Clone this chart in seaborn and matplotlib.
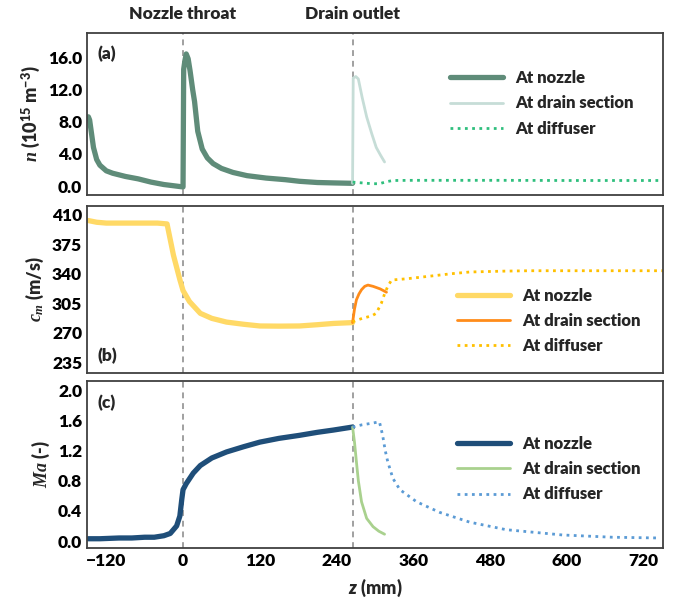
import numpy as np
import pandas as pd
import matplotlib
matplotlib.use('Agg')
import matplotlib.pyplot as plt
import seaborn as sns
from matplotlib.ticker import MultipleLocator, FormatStrFormatter, FixedLocator

# ---------------- data ----------------
# panel (a): droplet number density n (1e15 m^-3)
z_a_nozzle = [-148, -146, -143, -140, -135, -130, -120, -110, -90, -70, -50, -30, -10, 0,
              1, 3, 5, 8, 11, 15, 18, 23, 30, 38, 47, 60, 78, 100, 130, 160, 182, 210, 235, 265]
n_a_nozzle = [8.6, 8.2, 6.5, 4.8, 3.3, 2.6, 1.9, 1.6, 1.2, 0.9, 0.5, 0.2, 0.0, -0.1,
              14.5, 15.6, 16.4, 15.8, 14.3, 12.0, 10.5, 6.8, 4.6, 3.5, 2.8, 2.2, 1.7, 1.3, 1.0, 0.8, 0.6, 0.45, 0.4, 0.35]
z_a_drain = [265, 266, 270, 274, 280, 287, 295, 302, 309, 315]
n_a_drain = [0.35, 13.4, 13.6, 13.3, 11.0, 8.6, 6.5, 4.8, 3.8, 3.0]
z_a_diff = [265, 280, 295, 307, 318, 328, 360, 420, 500, 600, 700, 750]
n_a_diff = [0.5, 0.4, 0.3, 0.3, 0.55, 0.7, 0.72, 0.72, 0.72, 0.7, 0.7, 0.7]

# panel (b): mean velocity c_m (m/s)
z_b_nozzle = [-148, -135, -120, -80, -40, -25, -15, -5, 0, 10, 27, 45, 68, 95, 120, 150, 182, 210, 235, 265]
c_b_nozzle = [403, 401, 400, 400, 400, 399, 362, 333, 320, 307, 293, 287, 282.6, 280, 278, 277.8, 278, 279.5, 281, 282]
z_b_drain = [265, 268, 271, 275, 279, 284, 289, 297, 308, 318]
c_b_drain = [282, 298, 309, 316, 321, 325, 326.5, 325, 322, 318]
z_b_diff = [265, 280, 295, 302, 310, 315, 320, 326, 350, 385, 420, 448, 500, 541, 600, 680, 750]
c_b_diff = [283, 287, 290, 293, 305, 316, 325, 332.5, 334, 337, 340, 342, 343, 343.5, 343.5, 343.5, 343.5]

# panel (c): Mach number Ma (-)
z_c_nozzle = [-148, -130, -100, -80, -60, -45, -30, -20, -10, -5, -2, 0, 5, 16, 27, 45, 68, 95, 120, 150, 182, 210, 235, 265]
m_c_nozzle = [0.03, 0.03, 0.04, 0.04, 0.05, 0.05, 0.07, 0.1, 0.2, 0.33, 0.55, 0.68, 0.76, 0.9, 1.0, 1.1, 1.18, 1.25, 1.31, 1.36, 1.40, 1.44, 1.47, 1.51]
z_c_drain = [265, 268, 271, 274, 279, 287, 297, 306, 315]
m_c_drain = [1.51, 1.31, 1.05, 0.8, 0.52, 0.30, 0.19, 0.13, 0.09]
z_c_diff = [265, 280, 295, 307, 312, 316, 320, 328, 339, 365, 401, 448, 505, 593, 671, 744]
m_c_diff = [1.51, 1.54, 1.56, 1.58, 1.40, 1.2, 1.05, 0.83, 0.68, 0.52, 0.38, 0.25, 0.15, 0.08, 0.05, 0.04]

series_labels = ['At nozzle', 'At drain section', 'At diffuser']
x_ticks = [-120, 0, 120, 240, 360, 480, 600, 720]
b_ticks = [235, 270, 305, 340, 375, 410]
z_throat = 0
z_outlet = 265

# ---------------- styling ----------------
sns.set_style('white')
W = 'heavy'
plt.rcParams['font.family'] = ['Lato', 'DejaVu Sans']
plt.rcParams['font.weight'] = W
plt.rcParams['mathtext.fontset'] = 'custom'
plt.rcParams['mathtext.rm'] = 'Lato:heavy'
plt.rcParams['mathtext.it'] = 'Liberation Serif:italic:bold'
plt.rcParams['mathtext.bf'] = 'Lato:heavy'
plt.rcParams['mathtext.sf'] = 'Lato:italic:heavy'

dot = (0, (1, 1.6))
panels = [
    dict(data=[(z_a_nozzle, n_a_nozzle), (z_a_drain, n_a_drain), (z_a_diff, n_a_diff)],
         colors=['#5f8c79', '#c6ddd7', '#2fbf7d'],
         ylim=(-1.1, 19.0), major=MultipleLocator(4), minor=MultipleLocator(2), fmt='%.1f',
         ylabel=r'$n$ (10$^{15}$ m$^{-3}$)', tag='(a)', tag_y=0.87,
         leg=(0.63, 0.77), pos=[0.129, 0.675, 0.853, 0.270]),
    dict(data=[(z_b_nozzle, c_b_nozzle), (z_b_drain, c_b_drain), (z_b_diff, c_b_diff)],
         colors=['#ffd966', '#ff8c1a', '#ffc000'],
         ylim=(222, 420.5), major=FixedLocator(b_ticks),
         minor=MultipleLocator(17.5, offset=235 % 17.5), fmt='%d',
         ylabel=r'$c_{m}$ (m/s)', tag='(b)', tag_y=0.10,
         leg=(0.642, 0.51), pos=[0.129, 0.378, 0.853, 0.279]),
    dict(data=[(z_c_nozzle, m_c_nozzle), (z_c_drain, m_c_drain), (z_c_diff, m_c_diff)],
         colors=['#1f4e79', '#a9d18e', '#5b9bd5'],
         ylim=(-0.09, 2.12), major=MultipleLocator(0.4), minor=MultipleLocator(0.2), fmt='%.1f',
         ylabel=r'$Ma$ (-)', tag='(c)', tag_y=0.87,
         leg=(0.642, 0.67), pos=[0.129, 0.087, 0.853, 0.278]),
]
widths = [3.8, 2.0, 2.0]
styles = ['-', '-', dot]

fig = plt.figure(figsize=(6.75, 6.0), dpi=100)

for i, p in enumerate(panels):
    ax = fig.add_axes(p['pos'])
    for (zz, vv), col, lw, ls, lab in zip(p['data'], p['colors'], widths, styles, series_labels):
        df = pd.DataFrame({'z': zz, 'v': vv})
        sns.lineplot(data=df, x='z', y='v', ax=ax, color=col, lw=lw, linestyle=ls,
                     sort=False, estimator=None, label=lab, solid_capstyle='round')

    # throat / outlet markers
    for zl in (z_throat, z_outlet):
        ax.axvline(zl, color='#a0a0a0', lw=1.4, ls=(0, (3, 2.5)), zorder=0)

    ax.set_xlim(-150, 750)
    ax.set_ylim(*p['ylim'])
    ax.xaxis.set_major_locator(FixedLocator(x_ticks))
    ax.xaxis.set_minor_locator(MultipleLocator(60))
    ax.yaxis.set_major_locator(p['major'])
    ax.yaxis.set_minor_locator(p['minor'])
    ax.yaxis.set_major_formatter(FormatStrFormatter(p['fmt']))
    ax.tick_params(which='both', direction='in', colors='#333333', labelsize=12.5,
                   labelcolor='black', width=1.2)
    ax.tick_params(which='major', length=5)
    ax.tick_params(which='minor', length=3)
    for s in ax.spines.values():
        s.set_color('#404040')
        s.set_linewidth(1.3)

    ax.set_ylabel(p['ylabel'], fontsize=13, fontweight=W, labelpad=4)
    if i < 2:
        ax.set_xlabel('')
        ax.tick_params(labelbottom=False)
    else:
        ax.set_xlabel(r'$\mathsf{z}$ (mm)', fontsize=13, fontweight=W, labelpad=6)

    ax.text(0.018, p['tag_y'], p['tag'], transform=ax.transAxes, fontsize=12.5,
            fontweight=W, va='center', ha='left')

    ax.legend(loc='upper left', bbox_to_anchor=p['leg'], frameon=False,
              borderaxespad=0, borderpad=0, handlelength=3.2, handletextpad=0.7,
              labelspacing=0.55, prop={'size': 12, 'weight': W})

    if i == 0:
        ax.text(z_throat, 1.07, 'Nozzle throat', transform=ax.get_xaxis_transform(),
                ha='center', va='bottom', fontsize=12.5, fontweight=W)
        ax.text(z_outlet, 1.07, 'Drain outlet', transform=ax.get_xaxis_transform(),
                ha='center', va='bottom', fontsize=12.5, fontweight=W)

fig.savefig('out.png', dpi=100)
